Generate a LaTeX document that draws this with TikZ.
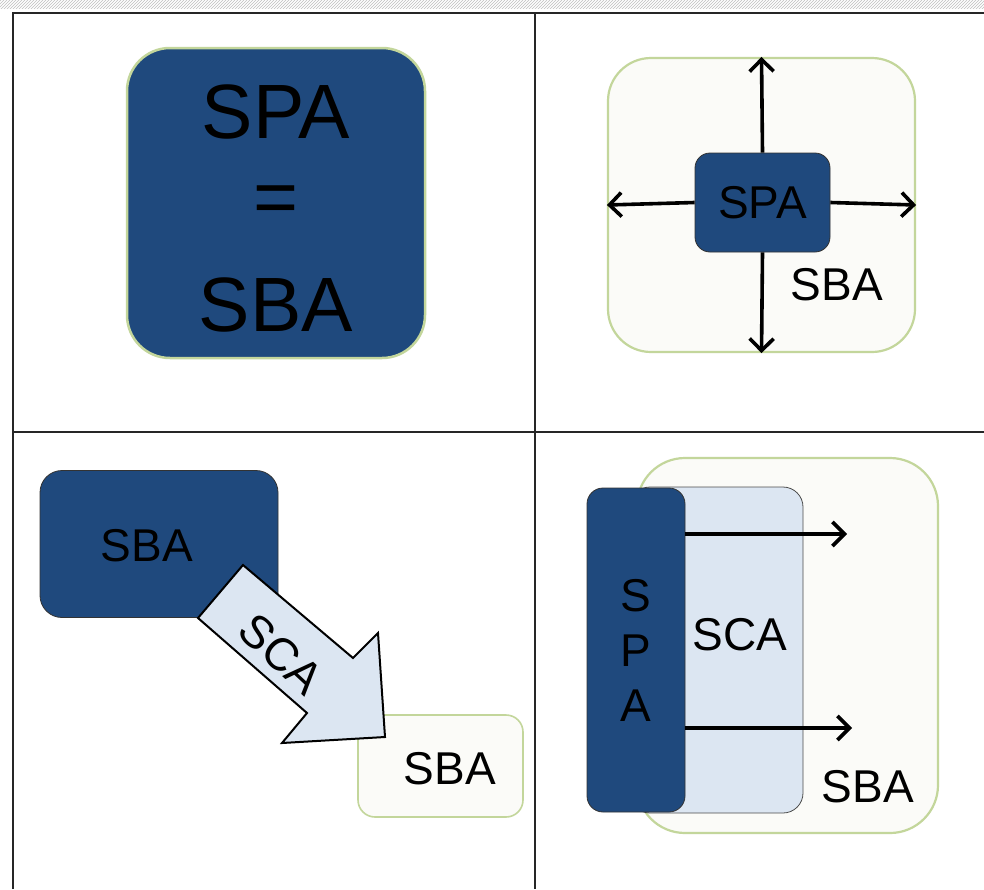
\documentclass[tikz,border=0pt]{standalone}
\usepackage{fontspec}
\setmainfont{Liberation Sans}
\usetikzlibrary{arrows.meta,patterns}
\definecolor{spablue}{RGB}{31,73,125}
\definecolor{sbagreen}{RGB}{195,214,155}
\definecolor{sbafill}{RGB}{251,251,248}
\definecolor{scafill}{RGB}{220,230,242}
\tikzset{
  gridline/.style={line width=1.8pt, black!85},
  spabox/.style={draw=black!80, fill=spablue, line width=0.8pt, rounded corners=15pt},
  sbabox/.style={draw=sbagreen, fill=sbafill, line width=2.2pt, rounded corners=40pt},
  scabox/.style={draw=black!70, fill=scafill, line width=0.8pt, rounded corners=20pt},
  lbl/.style={font=\fontsize{46}{55}\selectfont, inner sep=0pt},
  biglbl/.style={font=\fontsize{77}{77}\selectfont, inner sep=0pt},
  push/.style={line width=3.6pt, -{Straight Barb[length=12pt,width=24pt]}},
}
\begin{document}
\begin{tikzpicture}[x=1pt,y=-1pt]
\useasboundingbox (0,0) rectangle (984,889);
\fill[white] (0,0) rectangle (984,889);
\fill[pattern=north east lines, pattern color=black!25] (0,0) rectangle (984,8);
% frame of the four cells
\draw[gridline] (13,889) -- (13,13) -- (984,13);
\draw[gridline] (535,13) -- (535,889);
\draw[gridline] (13,432) -- (984,432);

% top left: SPA = SBA
\node[spabox, draw=sbagreen, line width=2.5pt, rounded corners=43pt,
  minimum width=298pt, minimum height=310pt] (eqbox) at (276,203) {};
\node[biglbl] (eqspa) at (276,112) {SPA};
\node[biglbl] (eqsign) at (276,205) {=};
\node[biglbl] (eqsba) at (276,305) {SBA};

% top right: SPA inside SBA
\node[sbabox, rounded corners=43pt, minimum width=307pt, minimum height=294pt] (sbaTR) at (761.5,205) {};
\node[spabox, lbl, minimum width=135pt, minimum height=99pt] (spaTR) at (762.5,202.5) {SPA};
\node[lbl] (sbaTRtxt) at (837,285) {SBA};
\draw[push] (spaTR.north) -- (sbaTR.north);
\draw[push] (spaTR.south) -- (sbaTR.south);
\draw[push] (spaTR.west) -- (sbaTR.west);
\draw[push] (spaTR.east) -- (sbaTR.east);

% bottom left: SBA -> SCA -> SBA
\node[spabox, rounded corners=22pt, minimum width=238pt, minimum height=147pt] (sbaBL) at (159,544) {};
\node[lbl] (sbaBLtxt) at (147,546) {SBA};
\node[sbabox, line width=1.6pt, rounded corners=17pt, minimum width=165pt, minimum height=102pt] (sbaSmall) at (440.5,766) {};
\node[lbl] (sbaSmalltxt) at (450,769) {SBA};
\draw[fill=scafill, line width=2pt, line join=miter] (243,565) -- (353,658) -- (378,633) -- (385,737)
  -- (282,743) -- (307,713) -- (198,618) -- cycle;
\node[lbl, rotate=-43] (scaBL) at (281,654) {SCA};

% bottom right: SPA and SCA inside SBA
\node[sbabox, rounded corners=48pt, minimum width=301pt, minimum height=375pt] (sbaBR) at (787.5,645.5) {};
\node[scabox, minimum width=173pt, minimum height=326pt] (scaBR) at (716.5,650) {};
\node[spabox, rounded corners=16pt, minimum width=98pt, minimum height=324pt] (spaBR) at (636,650) {};
\node[lbl, align=center] (spaBRtxt) at (636,650) {S\\P\\A};
\node[lbl] (scaBRtxt) at (740,635) {SCA};
\node[lbl] (sbaBRtxt) at (868,787) {SBA};
\coordinate (upEnd) at (847,534);
\coordinate (lowEnd) at (852,728);
\draw[push] (spaBR.east |- upEnd) -- (upEnd);
\draw[push] (spaBR.east |- lowEnd) -- (lowEnd);
\end{tikzpicture}
\end{document}
